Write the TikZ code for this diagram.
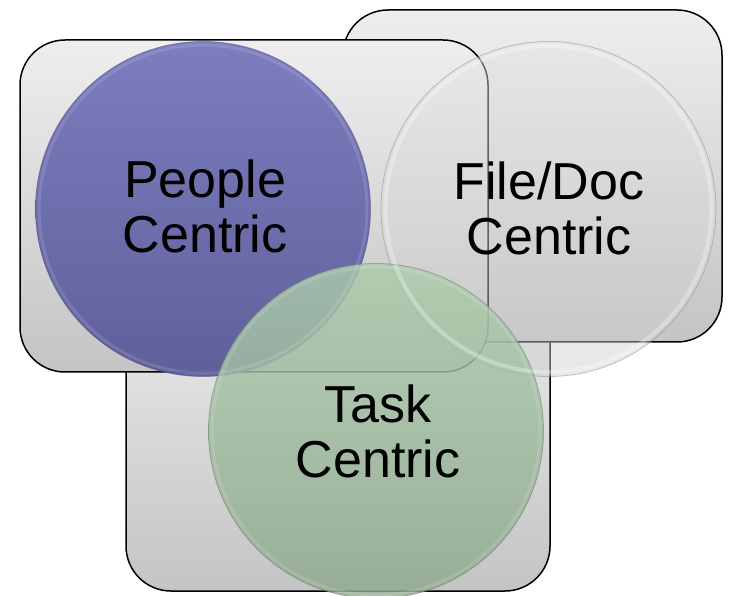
\documentclass[tikz,border=0pt]{standalone}
\usepackage{fontspec}
\setmainfont{Liberation Sans}
\definecolor{rtop}{HTML}{EEEEEE}
\definecolor{rbot}{HTML}{C4C4C4}
\definecolor{ptop}{HTML}{7878BE}
\definecolor{pbot}{HTML}{5A5B98}
\definecolor{gtop}{HTML}{ABCBAB}
\definecolor{gbot}{HTML}{8FA98F}
\definecolor{ftop}{HTML}{E4E4E4}
\definecolor{fbot}{HTML}{CBCBCB}
\begin{document}
\begin{tikzpicture}[x=1pt,y=-1pt,
  panel/.style={draw=black, line width=1.5pt, rounded corners=45pt,
    top color=rtop, bottom color=rbot, inner sep=0pt, outer sep=0pt},
  disc/.style={circle, inner sep=0pt, outer sep=0pt, minimum size=335pt},
  lbl/.style={font=\fontsize{52}{55}\selectfont, align=center, inner sep=0pt, text=black}]
\useasboundingbox (0,0) rectangle (729,596);
\clip (0,0) rectangle (729,596);
% panels
\node[panel, minimum width=424pt, minimum height=332pt] (taskpanel) at (338,425) {};
\node[panel, minimum width=379pt, minimum height=332pt] (filepanel) at (532.5,176) {};
\node[panel, minimum width=468pt, minimum height=332pt] (peoplepanel) at (254,206) {};
% discs
\node[disc, top color=ptop, bottom color=pbot, fill opacity=0.95,
      draw=pbot!80!black, draw opacity=0.5, line width=0.8pt] (people) at (203,209) {};
\node[disc, top color=ftop, bottom color=fbot, fill opacity=0.45,
      draw=black!45, draw opacity=0.5, line width=0.8pt] (filedoc) at (548.5,209) {};
\node[disc, top color=gtop, bottom color=gbot, fill opacity=0.82,
      draw=gbot!70!black, draw opacity=0.5, line width=0.8pt] (task) at (376,431) {};
% bevel highlights
\draw[white, opacity=0.12, line width=3pt] (people.center) circle (164);
\draw[white, opacity=0.3, line width=4pt] (filedoc.center) circle (163);
\draw[white, opacity=0.12, line width=3pt] (task.center) circle (164);
% labels
\node[lbl] (peopletext) at (205,206) {People\\Centric};
\node[lbl] (filetext) at (549,208) {File/Doc\\Centric};
\node[lbl] (tasktext) at (378,431) {Task\\Centric};
\end{tikzpicture}
\end{document}
